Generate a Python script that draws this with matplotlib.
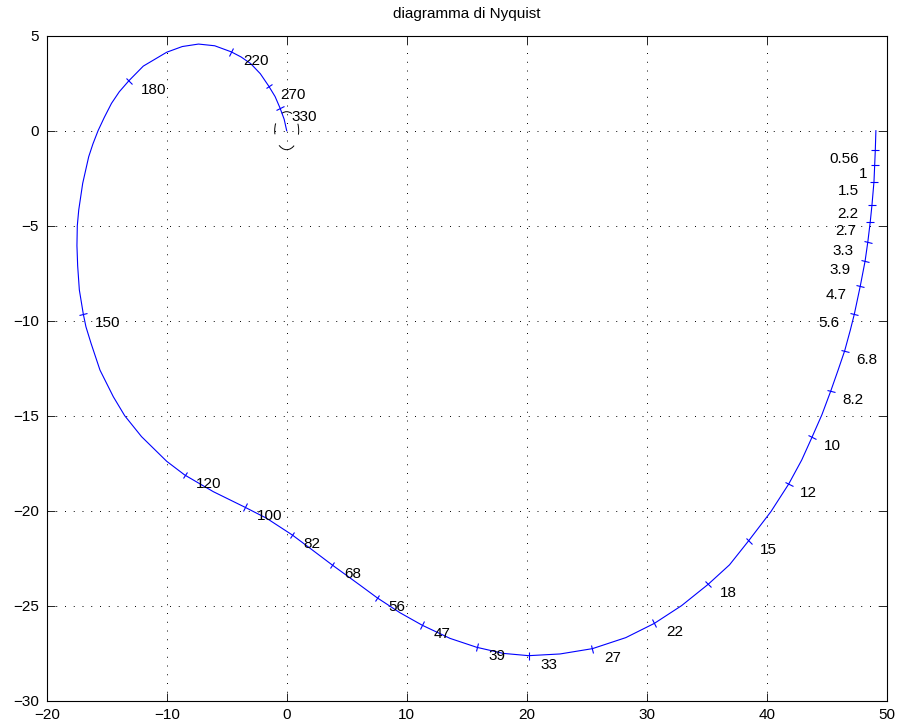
import numpy as np
import matplotlib
matplotlib.use("Agg")
import matplotlib.pyplot as plt
from matplotlib.markers import MarkerStyle
from matplotlib.transforms import Affine2D
from matplotlib.patches import Circle

plt.rcParams['font.family'] = ['Liberation Sans', 'DejaVu Sans']
plt.rcParams['font.size'] = 11

curve_re = [49.1, 49.05, 49.0, 48.94, 48.77, 48.63, 48.43, 48.2, 47.8, 47.3,
            46.97, 46.5, 45.95, 45.35, 44.6, 43.77, 42.92, 41.83, 40.35, 38.5,
            36.9, 35.13, 32.9, 30.64, 28.26, 25.48, 22.78, 20.16, 18.05, 15.84,
            13.61, 11.3, 9.44, 7.53, 6.09, 3.8, 2.1, 0.47, -1.67, -3.47,
            -6.11, -8.5, -10.0, -12.1, -13.5, -14.45, -15.56, -16.3, -16.73, -16.95,
            -17.28, -17.42, -17.48, -17.45, -17.33, -17.0, -16.5, -16.15, -15.72, -15.2,
            -14.6, -13.95, -13.15, -11.95, -10.0, -8.7, -7.35, -6.0, -4.62, -3.8,
            -3.0, -2.2, -1.5, -0.97, -0.56, -0.21, 0.0]
curve_im = [0.0, -1.02, -1.79, -2.68, -3.93, -4.79, -5.84, -6.86, -8.17, -9.66,
            -10.49, -11.58, -12.6, -13.68, -14.95, -16.14, -17.33, -18.6, -20.05, -21.58,
            -22.85, -23.87, -25.0, -25.93, -26.68, -27.26, -27.54, -27.63, -27.51, -27.19,
            -26.72, -26.03, -25.37, -24.58, -23.91, -22.86, -22.05, -21.28, -20.4, -19.82,
            -19.0, -18.12, -17.4, -16.1, -15.0, -14.0, -12.6, -11.2, -10.32, -9.65,
            -8.38, -7.11, -6.05, -5.0, -4.17, -2.77, -1.37, -0.7, 0.0, 0.7,
            1.44, 2.05, 2.63, 3.4, 4.13, 4.43, 4.56, 4.47, 4.15, 3.88,
            3.53, 3.0, 2.35, 1.8, 1.2, 0.6, 0.0]

# frequency marks on the curve
freq_labels = ['0.56', '1', '1.5', '2.2', '2.7', '3.3', '3.9', '4.7', '5.6', '6.8',
               '8.2', '10', '12', '15', '18', '22', '27', '33', '39', '47',
               '56', '68', '82', '100', '120', '150', '180', '220', '270', '330']
freq_re = [49.05, 49.0, 48.94, 48.77, 48.63, 48.43, 48.2, 47.8, 47.3, 46.5,
           45.35, 43.77, 41.83, 38.5, 35.13, 30.64, 25.48, 20.16, 15.84, 11.3,
           7.53, 3.8, 0.47, -3.47, -8.5, -16.95, -13.15, -4.62, -1.5, -0.56]
freq_im = [-1.02, -1.79, -2.68, -3.93, -4.79, -5.84, -6.86, -8.17, -9.66, -11.58,
           -13.68, -16.14, -18.6, -21.58, -23.87, -25.93, -27.26, -27.63, -27.19, -26.03,
           -24.58, -22.86, -21.28, -19.82, -18.12, -9.65, 2.63, 4.15, 2.35, 1.2]

W, H, DPI = 902, 728, 100
fig = plt.figure(figsize=(W / DPI, H / DPI), dpi=DPI)
ax = fig.add_axes([46.7 / W, 1 - 700.7 / H, 840 / W, 665 / H])

ax.set_xlim(-20, 50)
ax.set_ylim(-30, 5)
ax.set_xticks(np.arange(-20, 51, 10))
ax.set_yticks(np.arange(-30, 6, 5))
ax.tick_params(direction='in', length=5.8, width=0.6, top=True, right=True, pad=5.5)
for s in ax.spines.values():
    s.set_linewidth(0.8)
ax.grid(True, color='k', linestyle=(0, (1, 8)), linewidth=0.7)
ax.set_axisbelow(True)
ax.set_title('diagramma di Nyquist', pad=13, fontsize=11)

ax.plot(curve_re, curve_im, color='b', lw=0.8)

# unit circle, dashed
ax.add_patch(Circle((0, 0), 1, fill=False, ec='k', lw=0.7,
                    ls=(2.3, (11.3, 12.3))))

# little ticks perpendicular to the curve
disp = ax.transData.transform(np.column_stack([curve_re, curve_im]))
pts = np.column_stack([curve_re, curve_im])
px2pt = 72.0 / DPI
right_side = {'0.56': -16, '1': -7.5, '1.5': -15, '2.2': -14, '2.7': -14,
              '3.3': -14, '3.9': -15, '4.7': -14, '5.6': -15}
for lab, xr, yi in zip(freq_labels, freq_re, freq_im):
    i = int(np.argmin(np.hypot(pts[:, 0] - xr, pts[:, 1] - yi)))
    a = disp[max(i - 1, 0)]
    b = disp[min(i + 1, len(disp) - 1)]
    ang = np.degrees(np.arctan2(b[1] - a[1], b[0] - a[0]))
    m = MarkerStyle('|', transform=Affine2D().rotate_deg(ang))
    ax.plot([xr], [yi], ls='none', marker=m, ms=6, mec='b', mew=0.8)
    if lab in right_side:
        dx, ha = right_side[lab], 'right'
    else:
        dx, ha = 11.5, 'left'
    ax.annotate(lab, (xr, yi), xytext=(dx * px2pt, -13 * px2pt),
                textcoords='offset points', ha=ha, va='baseline', fontsize=11)

fig.savefig('out.png', dpi=DPI)
